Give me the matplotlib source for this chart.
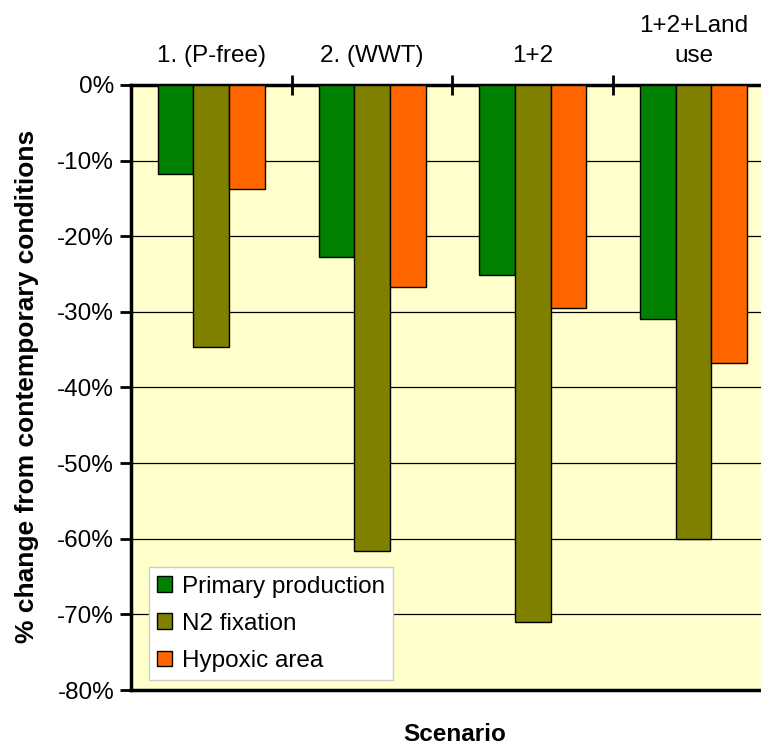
import numpy as np
import matplotlib.pyplot as plt
from matplotlib.ticker import FuncFormatter, FixedLocator

plt.rcParams['font.family'] = ['Liberation Sans', 'DejaVu Sans']

# data (% change)
scenarios = ['1. (P-free)', '2. (WWT)', '1+2', '1+2+Land\nuse']
primary_production = [-11.8, -22.7, -25.1, -30.9]
n2_fixation = [-34.6, -61.6, -71.0, -60.0]
hypoxic_area = [-13.8, -26.7, -29.5, -36.8]

series = [('Primary production', primary_production, '#008000'),
          ('N2 fixation', n2_fixation, '#808000'),
          ('Hypoxic area', hypoxic_area, '#FF6600')]

fig = plt.figure(figsize=(7.61, 7.48), dpi=100)
ax = fig.add_axes([0.172, 0.0775, 0.845, 0.809])
ax.set_facecolor('#FFFFCC')

x = np.arange(len(scenarios))
w = 0.222
for i, (name, vals, col) in enumerate(series):
    ax.bar(x + (i - 1) * w, vals, w, color=col, edgecolor='black',
           linewidth=1, label=name, zorder=3)

ax.set_xlim(-0.5, len(scenarios) - 0.5)
ax.set_ylim(-80, 0)
ax.set_yticks(np.arange(-80, 1, 10))
ax.yaxis.set_major_formatter(FuncFormatter(lambda v, p: f'{v:.0f}%'))
ax.grid(axis='y', color='black', linewidth=0.9, zorder=1)

# category axis sits at the top (0%)
ax.xaxis.tick_top()
ax.xaxis.set_major_locator(FixedLocator(x[:-1] + 0.5))
ax.xaxis.set_major_formatter(FuncFormatter(lambda v, p: ''))
ax.xaxis.set_minor_locator(FixedLocator(x))
ax.set_xticklabels(scenarios, minor=True, linespacing=1.45)
ax.tick_params(axis='x', which='major', direction='inout', length=14, width=2)
ax.tick_params(axis='x', which='minor', length=0, labelsize=17.5, pad=13)
ax.tick_params(axis='y', direction='out', length=8, width=2, labelsize=17.5, pad=4)

for s in ['left', 'top', 'bottom']:
    ax.spines[s].set_linewidth(2.5)
ax.spines['right'].set_visible(False)

fig.text(0.036, 0.483, '% change from contemporary conditions', fontsize=19,
         fontweight='bold', rotation=90, ha='center', va='center')
fig.text(0.597, 0.018, 'Scenario', fontsize=17.5, fontweight='bold',
         ha='center', va='center')

leg = ax.legend(loc='lower left', bbox_to_anchor=(0.028, 0.016), fontsize=17.5,
                handlelength=0.6, handleheight=0.6, handletextpad=0.4,
                labelspacing=0.62, borderpad=0.35, borderaxespad=0,
                fancybox=False, framealpha=1, edgecolor='#CCCCCC')
leg.get_frame().set_linewidth(1)

plt.savefig('out.png', dpi=100)
